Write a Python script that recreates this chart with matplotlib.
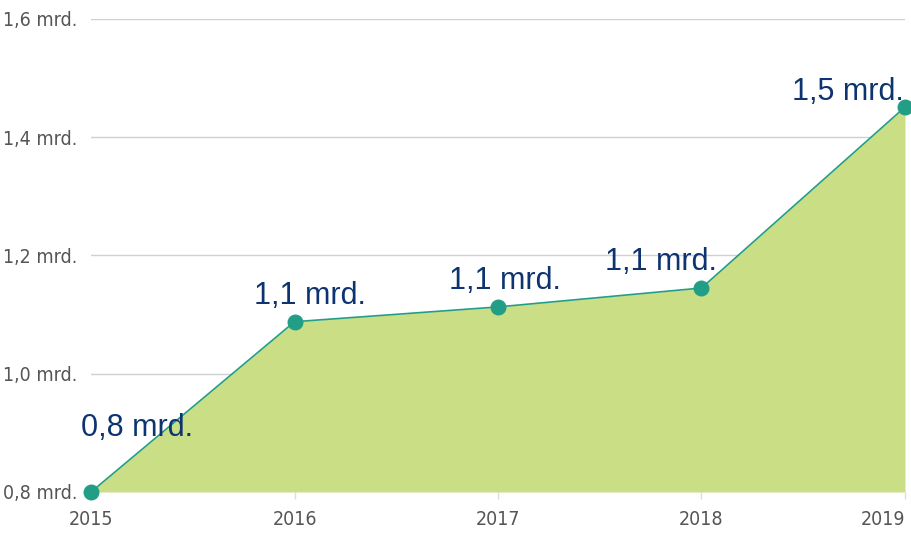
import matplotlib
matplotlib.use("Agg")
import matplotlib.pyplot as plt

years = [2015, 2016, 2017, 2018, 2019]
values = [0.80, 1.088, 1.113, 1.145, 1.451]
labels = ["0,8 mrd.", "1,1 mrd.", "1,1 mrd.", "1,1 mrd.", "1,5 mrd."]
yticks = [0.8, 1.0, 1.2, 1.4, 1.6]
ytick_labels = ["0,8 mrd.", "1,0 mrd.", "1,2 mrd.", "1,4 mrd.", "1,6 mrd."]

fill_color = "#c9de85"
line_color = "#239e86"
label_color = "#0d3470"
tick_color = "#555555"

fig = plt.figure(figsize=(9.12, 5.36), dpi=100)
ax = fig.add_axes([0.0998, 0.0821, 0.8925, 0.8825])

ax.fill_between(years, 0.8, values, color=fill_color, linewidth=0, zorder=2)
ax.plot(years, values, color=line_color, linewidth=1.2, zorder=3)
ax.scatter(years, values, s=110, color=line_color, zorder=4, clip_on=False)

# label offsets (points) tuned to the reference placement
offsets = [(-7, 40), (11, 13), (5, 13), (-29, 13), (-1, 5)]
aligns = ["left", "center", "center", "center", "right"]
for x, y, t, off, ha in zip(years, values, labels, offsets, aligns):
    ax.annotate(t, (x, y), xytext=off, textcoords="offset points", ha=ha, va="baseline",
                fontsize=22, color=label_color, family=["Liberation Sans", "DejaVu Sans"],
                zorder=5)

ax.set_xlim(2015, 2019)
ax.set_ylim(0.8, 1.6)
ax.set_yticks(yticks)
ax.set_yticklabels(ytick_labels)
ax.set_xticks(years)
ax.set_xticklabels([str(y) for y in years])
ax.grid(axis="y", color="#d0d0d0", linewidth=1, zorder=0)
ax.set_axisbelow(True)
for s in ax.spines.values():
    s.set_visible(False)
ax.tick_params(axis="y", length=0, pad=10, labelsize=14, labelcolor=tick_color)
ax.tick_params(axis="x", length=5, width=1, color="#dddddd", pad=8, labelsize=14,
               labelcolor=tick_color)
for lab in ax.get_xticklabels() + ax.get_yticklabels():
    lab.set_family("DejaVu Sans")
    lab.set_fontstretch("condensed")
ax.get_xticklabels()[-1].set_horizontalalignment("right")

fig.savefig("out.png", dpi=100)
